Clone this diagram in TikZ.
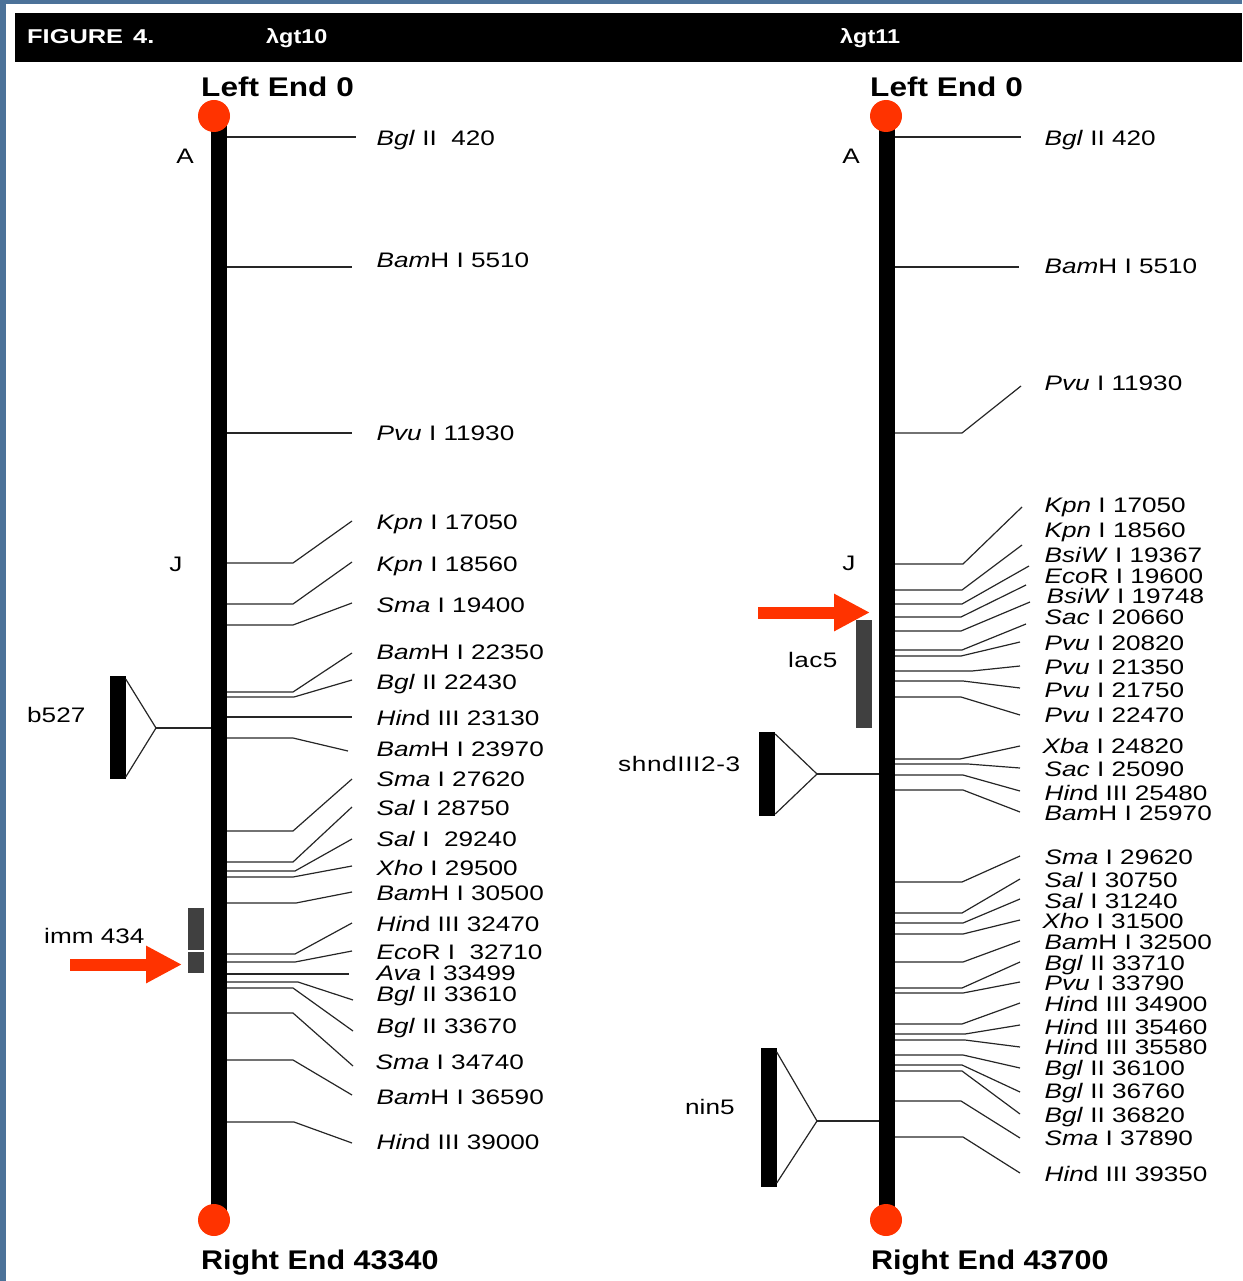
\documentclass[tikz,border=0pt]{standalone}
\usepackage{fontspec}
\setmainfont{Liberation Sans}[FakeStretch=1.245]
\newfontfamily\headfont{Liberation Sans}[FakeStretch=1.27]
\newfontfamily\endfont{Liberation Sans}[FakeStretch=1.17]
\newfontfamily\rightendfont{Liberation Sans}[FakeStretch=1.13]
\usetikzlibrary{arrows.meta}
\definecolor{mapred}{HTML}{FF3300}
\definecolor{slideblue}{HTML}{4C7299}
\definecolor{insertgray}{HTML}{404040}
\tikzset{
  sitelabel/.style={anchor=west, inner sep=0pt, text height=15pt, text depth=0pt,
    font=\fontsize{21}{21}\selectfont},
  maplabel/.style={sitelabel, anchor=center},
  leader/.style={line width=1.2pt, black!85},
  chrom/.style={fill=black, minimum width=16pt, minimum height=1104pt, inner sep=0pt},
  endcap/.style={circle, fill=mapred, minimum size=32pt, inner sep=0pt},
  endlabel/.style={anchor=west, inner sep=0pt, text height=19pt, text depth=0pt,
    font=\endfont\bfseries\fontsize{27}{27}\selectfont},
  rightlabel/.style={endlabel, font=\rightendfont\bfseries\fontsize{27}{27}\selectfont},
  headlabel/.style={anchor=west, inner sep=0pt, text height=14pt, text depth=0pt, text=white,
    font=\headfont\bfseries\fontsize{20}{20}\selectfont},
  lambdalabel/.style={headlabel, font=\endfont\bfseries\fontsize{20}{20}\selectfont},
  redarrow/.style={-{Triangle[length=36pt, width=35pt]}, line width=12pt, mapred},
  insertbar/.style={fill=black, inner sep=0pt, minimum width=16pt},
  graybar/.style={fill=insertgray, inner sep=0pt, minimum width=16pt},
}
\begin{document}
\begin{tikzpicture}[x=1pt, y=-1pt]
  \useasboundingbox (0,0) rectangle (1242,1281);

  % Slide edge and title band
  \fill[slideblue] (0,0) rectangle (1242,4);
  \fill[slideblue] (0,0) rectangle (6,1281);
  \fill[black] (15,13) rectangle (1242,62);
  \node[headlabel] (figtitle) at (27,37) {FIGURE\hspace{3pt} 4.};
  \node[lambdalabel] (gtten) at (266,37) {λgt10};
  \node[lambdalabel] (gteleven) at (840,37) {λgt11};

  % Left map
  \node[chrom] (barL) at (219,668) {};
  \node[endcap] (topL) at (214,116) {};
  \node[endcap] (botL) at (214,1220) {};
  \node[endlabel] (leftL) at (201,87) {Left End 0};
  \node[rightlabel] (rightL) at (201,1260) {Right End 43340};
  \node[maplabel] (markAL) at (185,156) {A};
  \node[maplabel] (markJL) at (176,564) {J};

  % Left sites
  \node[sitelabel] (l420) at (376.5,138) {\textit{Bgl} II\ \ 420};
  \node[sitelabel] (l5510) at (376.5,260) {\textit{Bam}H I 5510};
  \node[sitelabel] (l11930) at (376.5,433) {\textit{Pvu} I 11930};
  \node[sitelabel] (l17050) at (376.5,522) {\textit{Kpn} I 17050};
  \node[sitelabel] (l18560) at (376.5,564) {\textit{Kpn} I 18560};
  \node[sitelabel] (l19400) at (376.5,605) {\textit{Sma} I 19400};
  \node[sitelabel] (l22350) at (376.5,652) {\textit{Bam}H I 22350};
  \node[sitelabel] (l22430) at (376.5,682) {\textit{Bgl} II 22430};
  \node[sitelabel] (l23130) at (376.5,718) {\textit{Hin}d III 23130};
  \node[sitelabel] (l23970) at (376.5,749) {\textit{Bam}H I 23970};
  \node[sitelabel] (l27620) at (376.5,779) {\textit{Sma} I 27620};
  \node[sitelabel] (l28750) at (376.5,808) {\textit{Sal} I 28750};
  \node[sitelabel] (l29240) at (376.5,839) {\textit{Sal} I\ \ 29240};
  \node[sitelabel] (l29500) at (376.5,868) {\textit{Xho} I 29500};
  \node[sitelabel] (l30500) at (376.5,893) {\textit{Bam}H I 30500};
  \node[sitelabel] (l32470) at (376.5,924) {\textit{Hin}d III 32470};
  \node[sitelabel] (l32710) at (376.5,952) {\textit{Eco}R I\ \ 32710};
  \node[sitelabel] (l33499) at (376.5,973) {\textit{Ava} I 33499};
  \node[sitelabel] (l33610) at (376.5,994) {\textit{Bgl} II 33610};
  \node[sitelabel] (l33670) at (376.5,1026) {\textit{Bgl} II 33670};
  \node[sitelabel] (l34740) at (375.5,1062) {\textit{Sma} I 34740};
  \node[sitelabel] (l36590) at (376.5,1097) {\textit{Bam}H I 36590};
  \node[sitelabel] (l39000) at (376.5,1142) {\textit{Hin}d III 39000};

  \draw[leader] (barL.east |- 0,137) -- ([shift={(-20.5,-1)}]l420.west);
  \draw[leader] (barL.east |- 0,267) -- ([shift={(-24.5,7)}]l5510.west);
  \draw[leader] (barL.east |- 0,433) -- ([shift={(-24.5,0)}]l11930.west);
  \draw[leader] (barL.east |- 0,563) -- (293,563) -- ([shift={(-24.5,-1)}]l17050.west);
  \draw[leader] (barL.east |- 0,604) -- (293,604) -- ([shift={(-24.5,-2)}]l18560.west);
  \draw[leader] (barL.east |- 0,625) -- (293,625) -- ([shift={(-24.5,-2)}]l19400.west);
  \draw[leader] (barL.east |- 0,692) -- (293,692) -- ([shift={(-24.5,1)}]l22350.west);
  \draw[leader] (barL.east |- 0,697) -- (294,697) -- ([shift={(-24.5,-2)}]l22430.west);
  \draw[leader] (barL.east |- 0,717) -- ([shift={(-24.5,-1)}]l23130.west);
  \draw[leader] (barL.east |- 0,738) -- (293,738) -- ([shift={(-28.5,2)}]l23970.west);
  \draw[leader] (barL.east |- 0,831) -- (293,831) -- ([shift={(-24.5,0)}]l27620.west);
  \draw[leader] (barL.east |- 0,862) -- (293,862) -- ([shift={(-24.5,-1)}]l28750.west);
  \draw[leader] (barL.east |- 0,871) -- (295,871) -- ([shift={(-24.5,0)}]l29240.west);
  \draw[leader] (barL.east |- 0,877) -- (293,877) -- ([shift={(-24.5,-2)}]l29500.west);
  \draw[leader] (barL.east |- 0,903) -- (296,903) -- ([shift={(-24.5,-1)}]l30500.west);
  \draw[leader] (barL.east |- 0,954) -- (295,954) -- ([shift={(-24.5,-1)}]l32470.west);
  \draw[leader] (barL.east |- 0,962) -- (295,962) -- ([shift={(-24.5,-1)}]l32710.west);
  \draw[leader] (barL.east |- 0,974) -- ([shift={(-27.5,1)}]l33499.west);
  \draw[leader] (barL.east |- 0,982) -- (298,982) -- ([shift={(-23.5,6)}]l33610.west);
  \draw[leader] (barL.east |- 0,988) -- (293,988) -- ([shift={(-23.5,5)}]l33670.west);
  \draw[leader] (barL.east |- 0,1013) -- (293,1013) -- ([shift={(-22.5,4)}]l34740.west);
  \draw[leader] (barL.east |- 0,1060) -- (293,1060) -- ([shift={(-24.5,-2)}]l36590.west);
  \draw[leader] (barL.east |- 0,1122) -- (294,1122) -- ([shift={(-24.5,1)}]l39000.west);

  % Left inserts
  \node[insertbar, minimum height=103pt] (b527) at (117.5,727.5) {};
  \node[sitelabel] (b527lab) at (27,715) {b527};
  \coordinate (b527tip) at (156,728);
  \draw[leader] (b527.east |- 0,679) -- (b527tip) -- (b527.east |- 0,777);
  \draw[leader] (b527tip) -- (barL.west |- b527tip);
  \node[graybar, minimum height=42pt] (immtop) at (196,929) {};
  \node[graybar, minimum height=21pt] (immbot) at (196,962.5) {};
  \node[sitelabel] (immlab) at (44,936) {imm 434};
  \coordinate (immtail) at (70,964.5);
  \coordinate (immtip) at (182,964.5);
  \draw[redarrow] (immtail) -- (immtip);

  % Right map
  \node[chrom] (barR) at (887,668) {};
  \node[endcap] (topR) at (886,116) {};
  \node[endcap] (botR) at (886,1220) {};
  \node[endlabel] (leftR) at (870,87) {Left End 0};
  \node[rightlabel] (rightR) at (871,1260) {Right End 43700};
  \node[maplabel] (markAR) at (851,156) {A};
  \node[maplabel] (markJR) at (849,563) {J};

  % Right sites
  \node[sitelabel] (r420) at (1044.5,138) {\textit{Bgl} II 420};
  \node[sitelabel] (r5510) at (1044.5,266) {\textit{Bam}H I 5510};
  \node[sitelabel] (r11930) at (1044.5,383) {\textit{Pvu} I 11930};
  \node[sitelabel] (r17050) at (1044.5,505) {\textit{Kpn} I 17050};
  \node[sitelabel] (r18560) at (1044.5,530) {\textit{Kpn} I 18560};
  \node[sitelabel] (r19367) at (1044.5,555) {\textit{BsiW} I 19367};
  \node[sitelabel] (r19600) at (1044.5,576) {\textit{Eco}R I 19600};
  \node[sitelabel] (r19748) at (1046.5,596) {\textit{BsiW} I 19748};
  \node[sitelabel] (r20660) at (1044.5,617) {\textit{Sac} I 20660};
  \node[sitelabel] (r20820) at (1044.5,643) {\textit{Pvu} I 20820};
  \node[sitelabel] (r21350) at (1044.5,667) {\textit{Pvu} I 21350};
  \node[sitelabel] (r21750) at (1044.5,690) {\textit{Pvu} I 21750};
  \node[sitelabel] (r22470) at (1044.5,715) {\textit{Pvu} I 22470};
  \node[sitelabel] (r24820) at (1042.5,746) {\textit{Xba} I 24820};
  \node[sitelabel] (r25090) at (1044.5,769) {\textit{Sac} I 25090};
  \node[sitelabel] (r25480) at (1044.5,793) {\textit{Hin}d III 25480};
  \node[sitelabel] (r25970) at (1044.5,813) {\textit{Bam}H I 25970};
  \node[sitelabel] (r29620) at (1044.5,857) {\textit{Sma} I 29620};
  \node[sitelabel] (r30750) at (1044.5,880) {\textit{Sal} I 30750};
  \node[sitelabel] (r31240) at (1044.5,901) {\textit{Sal} I 31240};
  \node[sitelabel] (r31500) at (1042.5,921) {\textit{Xho} I 31500};
  \node[sitelabel] (r32500) at (1044.5,942) {\textit{Bam}H I 32500};
  \node[sitelabel] (r33710) at (1044.5,963) {\textit{Bgl} II 33710};
  \node[sitelabel] (r33790) at (1044.5,983) {\textit{Pvu} I 33790};
  \node[sitelabel] (r34900) at (1044.5,1004) {\textit{Hin}d III 34900};
  \node[sitelabel] (r35460) at (1044.5,1027) {\textit{Hin}d III 35460};
  \node[sitelabel] (r35580) at (1044.5,1047) {\textit{Hin}d III 35580};
  \node[sitelabel] (r36100) at (1044.5,1068) {\textit{Bgl} II 36100};
  \node[sitelabel] (r36760) at (1044.5,1091) {\textit{Bgl} II 36760};
  \node[sitelabel] (r36820) at (1044.5,1115) {\textit{Bgl} II 36820};
  \node[sitelabel] (r37890) at (1044.5,1138) {\textit{Sma} I 37890};
  \node[sitelabel] (r39350) at (1044.5,1174) {\textit{Hin}d III 39350};

  \draw[leader] (barR.east |- 0,137) -- ([shift={(-23.5,-1)}]r420.west);
  \draw[leader] (barR.east |- 0,267) -- ([shift={(-25.5,1)}]r5510.west);
  \draw[leader] (barR.east |- 0,433) -- (962,433) -- ([shift={(-23.5,3)}]r11930.west);
  \draw[leader] (barR.east |- 0,564) -- (963,564) -- ([shift={(-22.5,2)}]r17050.west);
  \draw[leader] (barR.east |- 0,590) -- (962,590) -- ([shift={(-22.5,15)}]r18560.west);
  \draw[leader] (barR.east |- 0,604) -- (962,604) -- ([shift={(-15.5,11)}]r19367.west);
  \draw[leader] (barR.east |- 0,617) -- (961,617) -- ([shift={(-18.5,9)}]r19600.west);
  \draw[leader] (barR.east |- 0,631) -- (961,631) -- ([shift={(-16.5,6)}]r19748.west);
  \draw[leader] (barR.east |- 0,650) -- (962,650) -- ([shift={(-18.5,7)}]r20660.west);
  \draw[leader] (barR.east |- 0,656) -- (961,656) -- ([shift={(-24.5,-1)}]r20820.west);
  \draw[leader] (barR.east |- 0,671) -- (972,671) -- ([shift={(-24.5,-1)}]r21350.west);
  \draw[leader] (barR.east |- 0,681) -- (963,681) -- ([shift={(-24.5,-2)}]r21750.west);
  \draw[leader] (barR.east |- 0,697) -- (961,697) -- ([shift={(-24.5,0)}]r22470.west);
  \draw[leader] (barR.east |- 0,759) -- (960,759) -- ([shift={(-22.5,0)}]r24820.west);
  \draw[leader] (barR.east |- 0,764) -- (968,764) -- ([shift={(-24.5,-1)}]r25090.west);
  \draw[leader] (barR.east |- 0,775) -- (963,775) -- ([shift={(-24.5,-2)}]r25480.west);
  \draw[leader] (barR.east |- 0,790) -- (963,790) -- ([shift={(-24.5,-1)}]r25970.west);
  \draw[leader] (barR.east |- 0,882) -- (962,882) -- ([shift={(-24.5,-1)}]r29620.west);
  \draw[leader] (barR.east |- 0,913) -- (962,913) -- ([shift={(-24.5,-1)}]r30750.west);
  \draw[leader] (barR.east |- 0,923) -- (963,923) -- ([shift={(-24.5,-2)}]r31240.west);
  \draw[leader] (barR.east |- 0,934) -- (963,934) -- ([shift={(-22.5,-1)}]r31500.west);
  \draw[leader] (barR.east |- 0,962) -- (963,962) -- ([shift={(-24.5,-1)}]r32500.west);
  \draw[leader] (barR.east |- 0,988) -- (962,988) -- ([shift={(-24.5,-1)}]r33710.west);
  \draw[leader] (barR.east |- 0,993) -- (963,993) -- ([shift={(-24.5,-1)}]r33790.west);
  \draw[leader] (barR.east |- 0,1024) -- (962,1024) -- ([shift={(-24.5,-1)}]r34900.west);
  \draw[leader] (barR.east |- 0,1034) -- (965,1034) -- ([shift={(-24.5,-2)}]r35460.west);
  \draw[leader] (barR.east |- 0,1040) -- (965,1040) -- ([shift={(-24.5,0)}]r35580.west);
  \draw[leader] (barR.east |- 0,1055) -- (963,1055) -- ([shift={(-24.5,0)}]r36100.west);
  \draw[leader] (barR.east |- 0,1065) -- (962,1065) -- ([shift={(-24.5,1)}]r36760.west);
  \draw[leader] (barR.east |- 0,1071) -- (962,1071) -- ([shift={(-24.5,-1)}]r36820.west);
  \draw[leader] (barR.east |- 0,1101) -- (961,1101) -- ([shift={(-24.5,0)}]r37890.west);
  \draw[leader] (barR.east |- 0,1137) -- (963,1137) -- ([shift={(-24.5,-1)}]r39350.west);

  % Right inserts
  \node[insertbar, minimum height=84pt] (shnd) at (767,774) {};
  \node[sitelabel] (shndlab) at (618,764) {\addfontfeature{LetterSpace=3}shndIII2-3};
  \coordinate (shndtip) at (817,774);
  \draw[leader] (shnd.east |- 0,734) -- (shndtip) -- (shnd.east |- 0,814);
  \draw[leader] (shndtip) -- (barR.west |- shndtip);
  \node[graybar, minimum height=108pt] (lacbar) at (864,674) {};
  \node[sitelabel] (laclab) at (788,660) {\addfontfeature{LetterSpace=2}lac5};
  \coordinate (lactail) at (758,612.5);
  \coordinate (lactip) at (870,612.5);
  \draw[redarrow] (lactail) -- (lactip);
  \node[insertbar, minimum height=139pt] (nin) at (768.5,1117.5) {};
  \node[sitelabel] (ninlab) at (685,1107) {nin5};
  \coordinate (nintip) at (817,1121);
  \draw[leader] (nin.east |- 0,1052) -- (nintip) -- (nin.east |- 0,1183);
  \draw[leader] (nintip) -- (barR.west |- nintip);
\end{tikzpicture}
\end{document}
